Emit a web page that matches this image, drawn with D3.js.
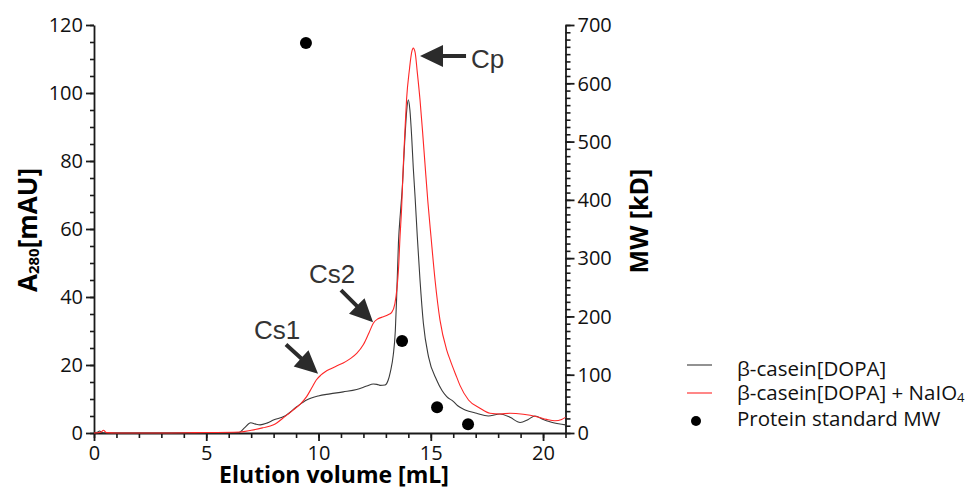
<!DOCTYPE html>
<html>
<head>
<meta charset="utf-8">
<script src="https://cdn.jsdelivr.net/npm/d3@7"></script>
<style>
  html, body { margin: 0; padding: 0; background: #fff; }
  svg { display: block; }
  .tick text { font-family: "Open Sans", sans-serif; font-size: 20px; fill: #111; }
  .axis path, .axis line { stroke: #1a1a1a; stroke-width: 1.8; }
  .minor path { display: none; }
  .minor line { stroke: #1a1a1a; stroke-width: 1.6; }
</style>
</head>
<body>
<svg id="chart" width="966" height="488"></svg>
<script>
// Elution volume (mL) and A280 (mAU) for the untreated sample
const blackVolume = [0, 0.15, 0.25, 0.35, 0.5, 1, 3, 5, 6.45, 6.7, 6.98, 7.2, 7.4, 7.7, 7.99, 8.5, 9.03, 9.47, 9.99, 10.51, 11.1, 11.7, 12.15, 12.44, 12.6, 12.74, 12.96, 13.1, 13.2, 13.33, 13.42, 13.48, 13.56, 13.65, 13.72, 13.85, 13.93, 14.0, 14.07, 14.15, 14.22, 14.3, 14.4, 14.52, 14.67, 14.9, 15.26, 15.5, 15.71, 16.0, 16.2, 16.53, 17.04, 17.56, 18.08, 18.53, 18.98, 19.34, 19.64, 20.01, 20.46, 21.0];
const blackA280   = [0, 0.2, 0.6, 0.1, 0, 0, 0, 0, 0.1, 1.5, 3.0, 2.6, 2.4, 2.9, 3.8, 5.0, 7.7, 9.7, 10.9, 11.5, 12.1, 12.8, 13.8, 14.4, 14.3, 14.0, 14.1, 15.5, 18, 23, 30, 40, 56, 65, 71, 87, 95, 98, 95, 87, 78, 69.5, 57.7, 45, 32.3, 22.4, 15.6, 12.5, 10.7, 9.3, 8.0, 6.8, 5.8, 5.0, 5.6, 4.6, 3.1, 4.0, 5.0, 4.0, 3.0, 2.4];

// Elution volume (mL) and A280 (mAU) after NaIO4 treatment
const redVolume = [0, 0.3, 0.42, 0.55, 1, 3, 4.5, 6.5, 7.0, 7.5, 8.0, 8.5, 8.88, 9.2, 9.47, 9.7, 9.9, 10.1, 10.3, 10.55, 10.8, 11.1, 11.4, 11.7, 12.0, 12.25, 12.44, 12.65, 12.89, 13.1, 13.26, 13.4, 13.5, 13.56, 13.63, 13.7, 13.78, 13.85, 13.92, 14.05, 14.15, 14.22, 14.3, 14.4, 14.52, 14.63, 14.74, 14.87, 15.01, 15.19, 15.41, 15.71, 15.86, 16.15, 16.3, 16.68, 17.19, 17.64, 18.08, 18.53, 19.12, 19.72, 20.16, 20.53, 20.83, 21.0];
const redA280   = [0, 0.2, 0.8, 0.1, 0, 0, 0.1, 0.3, 0.8, 1.5, 2.4, 4.8, 6.8, 8.6, 10.7, 13.3, 15.6, 17.0, 18.0, 18.9, 19.7, 20.6, 21.8, 23.4, 26, 29.5, 32.3, 33.6, 34.2, 34.8, 35.5, 38, 43, 48, 57.7, 66, 79.3, 89, 98, 107, 112, 113.2, 112, 106, 98, 89, 79.3, 68, 57.7, 45, 33.2, 24.4, 21.5, 16.5, 14, 9.7, 7.3, 5.8, 5.6, 5.8, 5.5, 4.8, 4.0, 3.6, 4.0, 4.6];

// Protein standards: elution volume (mL) and molecular weight (kD)
const standardVolume = [9.44, 13.72, 15.28, 16.66];
const standardMW     = [669, 158, 44, 15];

// Axis tick values
const xMajorTicks = [0, 5, 10, 15, 20];
const xMinorTicks = d3.range(0, 22, 1);
const yLeftMajorTicks = [0, 20, 40, 60, 80, 100, 120];
const yLeftMinorTicks = d3.range(0, 121, 5);
const yRightMajorTicks = [0, 100, 200, 300, 400, 500, 600, 700];
const yRightMinorTicks = d3.range(0, 701, 12.5);

// Legend entries
const legendLabels = ["β-casein[DOPA]", "β-casein[DOPA] + NaIO", "Protein standard MW"];

// Peak annotations: label, arrow tail and tip in data units (mL, mAU)
const annotations = [
  { label: "Cp",  tail: [16.57, 110.9], tip: [14.52, 110.9], dx: 5,  dy: 12 },
  { label: "Cs2", tail: [11.0, 42.0],   tip: [12.43, 32.6],  dx: -32, dy: -7 },
  { label: "Cs1", tail: [8.55, 26.0],   tip: [9.98, 17.4],   dx: -32, dy: -6 }
];

const svg = d3.select("#chart");

const x = d3.scaleLinear().domain([0, 21]).range([94, 565.5]);
const yL = d3.scaleLinear().domain([0, 120]).range([433, 25]);
const yR = d3.scaleLinear().domain([0, 700]).range([433, 25]);

// Minor ticks first so the axis lines sit on top
svg.append("g").attr("class", "minor").attr("transform", `translate(0,${yL(0)})`)
  .call(d3.axisBottom(x).tickValues(xMinorTicks).tickSize(5).tickFormat(""));
svg.append("g").attr("class", "minor").attr("transform", `translate(${x(0)},0)`)
  .call(d3.axisLeft(yL).tickValues(yLeftMinorTicks).tickSize(4).tickFormat(""));
svg.append("g").attr("class", "minor").attr("transform", `translate(${x(21)},0)`)
  .call(d3.axisRight(yR).tickValues(yRightMinorTicks).tickSize(5).tickFormat(""));

svg.append("g").attr("class", "axis x").attr("transform", `translate(0,${yL(0)})`)
  .call(d3.axisBottom(x).tickValues(xMajorTicks).tickSize(8).tickSizeOuter(0).tickPadding(5).tickFormat(d3.format("d")));
svg.append("g").attr("class", "axis y").attr("transform", `translate(${x(0)},0)`)
  .call(d3.axisLeft(yL).tickValues(yLeftMajorTicks).tickSize(8).tickSizeOuter(0).tickPadding(3).tickFormat(d3.format("d")));
svg.append("g").attr("class", "axis y").attr("transform", `translate(${x(21)},0)`)
  .call(d3.axisRight(yR).tickValues(yRightMajorTicks).tickSize(9).tickSizeOuter(0).tickPadding(3).tickFormat(d3.format("d")));

svg.selectAll(".axis.x .tick text").attr("dy", "0.72em");
svg.selectAll(".axis.y .tick text").attr("dy", "0.34em");

// Chromatogram traces
const line = (xs, ys, scaleY) => d3.line()
  .x((d, i) => x(xs[i]))
  .y((d, i) => scaleY(ys[i]))
  .curve(d3.curveMonotoneX)(xs);

svg.append("path").attr("d", line(blackVolume, blackA280, yL))
  .attr("fill", "none").attr("stroke", "#3a3a3a").attr("stroke-width", 1.1);
svg.append("path").attr("d", line(redVolume, redA280, yL))
  .attr("fill", "none").attr("stroke", "#ff2626").attr("stroke-width", 1.1);

// Protein standards on the MW axis
svg.selectAll("circle.std").data(standardVolume).join("circle")
  .attr("class", "std")
  .attr("cx", (d) => x(d))
  .attr("cy", (d, i) => yR(standardMW[i]))
  .attr("r", 6)
  .attr("fill", "#000");

// Block arrows pointing at the peaks
function arrowPath(x1, y1, x2, y2, headLen, headHalf, shaftHalf) {
  const dx = x2 - x1, dy = y2 - y1;
  const len = Math.hypot(dx, dy);
  const ux = dx / len, uy = dy / len;
  const nx = -uy, ny = ux;
  const bx = x2 - ux * headLen, by = y2 - uy * headLen;
  const p = [
    [x1 + nx * shaftHalf, y1 + ny * shaftHalf],
    [bx + nx * shaftHalf, by + ny * shaftHalf],
    [bx + nx * headHalf, by + ny * headHalf],
    [x2, y2],
    [bx - nx * headHalf, by - ny * headHalf],
    [bx - nx * shaftHalf, by - ny * shaftHalf],
    [x1 - nx * shaftHalf, y1 - ny * shaftHalf]
  ];
  return "M" + p.map((q) => q.join(",")).join("L") + "Z";
}

annotations.forEach((a) => {
  const tx = x(a.tail[0]), ty = yL(a.tail[1]);
  svg.append("path")
    .attr("d", arrowPath(tx, ty, x(a.tip[0]), yL(a.tip[1]), 23, 11, 2))
    .attr("fill", "#2b2b2b");
  svg.append("text")
    .attr("x", tx + a.dx).attr("y", ty + a.dy)
    .attr("font-family", "'Liberation Sans', Arial, sans-serif")
    .attr("font-size", 26).attr("fill", "#333")
    .text(a.label);
});

// Axis titles
svg.append("text")
  .attr("x", 334).attr("y", 483)
  .attr("text-anchor", "middle")
  .attr("font-family", "'Open Sans', sans-serif").attr("font-weight", "bold")
  .attr("font-size", 23).attr("fill", "#000")
  .text("Elution volume [mL]");

const leftTitle = svg.append("text")
  .attr("transform", "translate(37,230) rotate(-90)")
  .attr("text-anchor", "middle")
  .attr("font-family", "'Open Sans', sans-serif").attr("font-weight", "bold")
  .attr("font-size", 26).attr("fill", "#000");
leftTitle.append("tspan").text("A");
leftTitle.append("tspan").attr("font-size", 15).attr("dy", 2).text("280");
leftTitle.append("tspan").attr("dy", -2).text("[mAU]");

svg.append("text")
  .attr("transform", "translate(648,221) rotate(-90)")
  .attr("text-anchor", "middle")
  .attr("font-family", "'Open Sans', sans-serif").attr("font-weight", "bold")
  .attr("font-size", 25).attr("fill", "#000")
  .text("MW [kD]");

// Legend
const legend = svg.append("g").attr("font-family", "'Open Sans', sans-serif").attr("font-size", 20.5).attr("fill", "#111");
const rowY = [376, 400, 426];
legend.append("line").attr("x1", 687).attr("x2", 712).attr("y1", 365).attr("y2", 365)
  .attr("stroke", "#3a3a3a").attr("stroke-width", 1.1);
legend.append("line").attr("x1", 687).attr("x2", 712).attr("y1", 393).attr("y2", 393)
  .attr("stroke", "#ff2626").attr("stroke-width", 1.1);
legend.append("circle").attr("cx", 696).attr("cy", 421).attr("r", 5).attr("fill", "#000");
legendLabels.forEach((t, i) => {
  const txt = legend.append("text").attr("x", 737).attr("y", rowY[i]).text(t);
  if (i === 1) txt.append("tspan").attr("font-size", 13).attr("dy", 2).text("4");
});
</script>
</body>
</html>
